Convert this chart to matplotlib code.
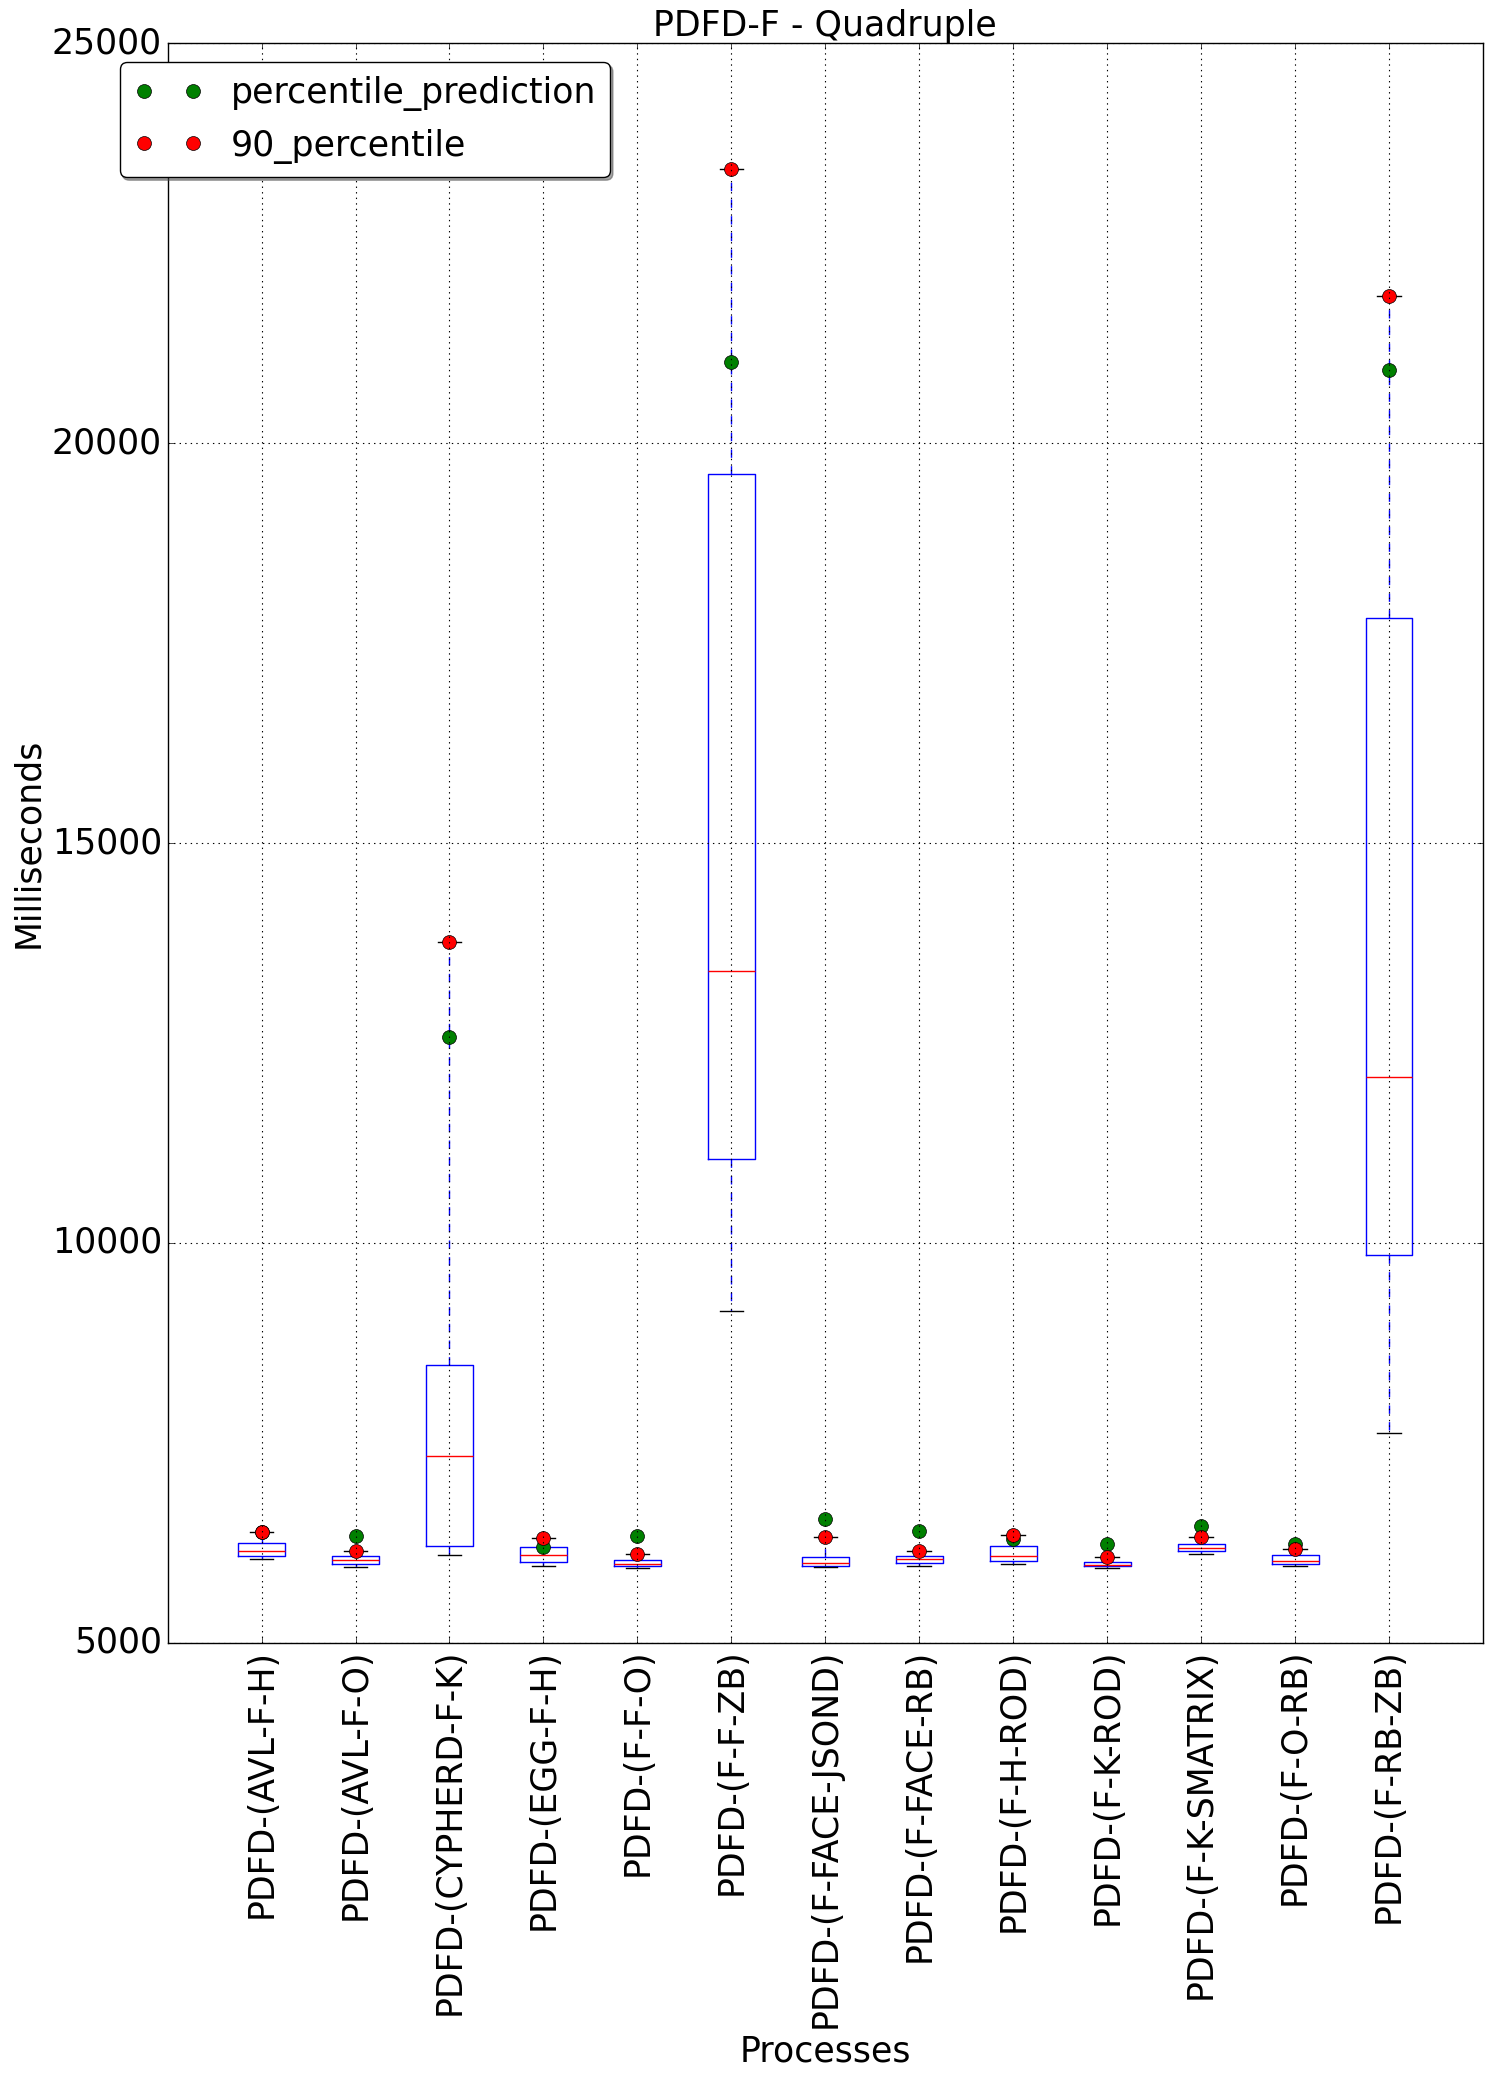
import matplotlib
matplotlib.use('Agg')
import matplotlib.pyplot as plt

processes = ['PDFD-(AVL-F-H)', 'PDFD-(AVL-F-O)', 'PDFD-(CYPHERD-F-K)', 'PDFD-(EGG-F-H)',
             'PDFD-(F-F-O)', 'PDFD-(F-F-ZB)', 'PDFD-(F-FACE-JSOND)', 'PDFD-(F-FACE-RB)',
             'PDFD-(F-H-ROD)', 'PDFD-(F-K-ROD)', 'PDFD-(F-K-SMATRIX)', 'PDFD-(F-O-RB)',
             'PDFD-(F-RB-ZB)']

# box statistics (ms)
whis_low = [6046, 5946, 6100, 5959, 5934, 9150, 5946, 5959, 5984, 5934, 6109, 5959, 7625]
q1 = [6091, 5984, 6210, 6009, 5959, 11050, 5959, 6000, 6021, 5959, 6146, 5984, 9849]
median = [6146, 6034, 7340, 6096, 5984, 13400, 6000, 6046, 6084, 5979, 6184, 6021, 12070]
q3 = [6246, 6091, 8480, 6196, 6034, 19610, 6071, 6084, 6209, 6009, 6234, 6096, 17810]
p90 = [6388, 6150, 13760, 6309, 6113, 23420, 6321, 6146, 6354, 6071, 6321, 6171, 21840]
prediction = [6385, 6338, 12580, 6204, 6338, 21010, 6546, 6400, 6304, 6241, 6466, 6234, 20910]

plt.style.use('classic')

fig = plt.figure(figsize=(14.94, 20.81), dpi=100, facecolor='white')
ax = fig.add_axes([0.1122, 0.2105, 0.8804, 0.7688])

stats = []
for i, name in enumerate(processes):
    stats.append({'label': name, 'whislo': whis_low[i], 'q1': q1[i], 'med': median[i],
                  'q3': q3[i], 'whishi': p90[i], 'fliers': []})

pos = list(range(1, len(processes) + 1))
ax.bxp(stats, positions=pos, widths=0.5,
       boxprops=dict(color='b', linewidth=1),
       whiskerprops=dict(color='b', linestyle='--', linewidth=1),
       capprops=dict(color='k', linewidth=1),
       medianprops=dict(color='r', linewidth=1))

ax.plot(pos, prediction, 'o', color='g', markersize=10, markeredgecolor='k',
        linestyle='none', label='percentile_prediction')
ax.plot(pos, p90, 'o', color='r', markersize=10, markeredgecolor='k',
        linestyle='none', label='90_percentile')

ax.set_xlim(0, 14)
ax.set_ylim(5000, 25000)
ax.set_yticks([5000, 10000, 15000, 20000, 25000])
ax.set_xticks(pos)
ax.set_xticklabels(processes, rotation=90, fontsize=25)
ax.tick_params(axis='y', labelsize=25)
ax.grid(True, color='k', linestyle=':', linewidth=0.8)

ax.set_title('PDFD-F - Quadruple', fontsize=25)
ax.set_xlabel('Processes', fontsize=25)
ax.set_ylabel('Milliseconds', fontsize=25)

ax.legend(loc='upper left', bbox_to_anchor=(-0.0365, 0.988), borderaxespad=0,
          numpoints=2, fancybox=True, shadow=True, fontsize=25)

fig.savefig('out.png', dpi=100, facecolor='white')
